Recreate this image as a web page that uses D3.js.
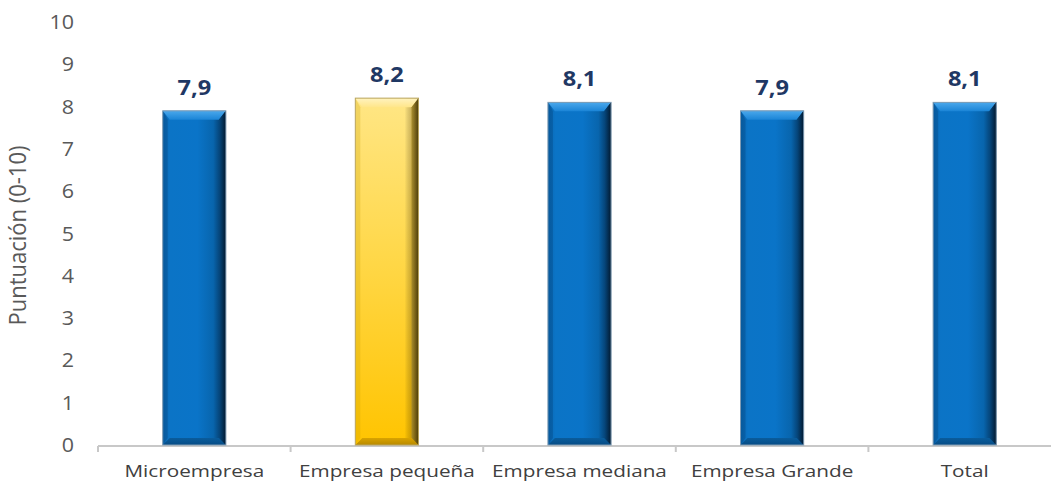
<!DOCTYPE html>
<html>
<head>
<meta charset="utf-8">
<script src="https://cdn.jsdelivr.net/npm/d3@7"></script>
<style>
  html, body { margin: 0; padding: 0; background: #fff; }
  svg { display: block; }
</style>
</head>
<body>
<svg id="chart" width="1051" height="481"></svg>
<script>
// Satisfaction score by company size
const categories = ["Microempresa", "Empresa pequeña", "Empresa mediana", "Empresa Grande", "Total"];
const values = [7.9, 8.2, 8.1, 7.9, 8.1];
const highlighted = ["Empresa pequeña"];
const yTicks = [0, 1, 2, 3, 4, 5, 6, 7, 8, 9, 10];

const svg = d3.select("#chart");
const FONT = "'Open Sans', 'Liberation Sans', sans-serif";

const x = d3.scaleBand().domain(categories).range([98, 1061]).padding(0);
const y = d3.scaleLinear().domain([0, 10]).range([445, 22]);

const defs = svg.append("defs");

function sideGrad(id, stops) {
  const g = defs.append("linearGradient").attr("id", id)
    .attr("x1", 0).attr("x2", 1).attr("y1", 0).attr("y2", 0);
  stops.forEach(s => g.append("stop").attr("offset", s[0]).attr("stop-color", s[1]));
}
function vertGrad(id, stops) {
  const g = defs.append("linearGradient").attr("id", id)
    .attr("x1", 0).attr("x2", 0).attr("y1", 0).attr("y2", 1);
  stops.forEach(s => g.append("stop").attr("offset", s[0]).attr("stop-color", s[1]));
}

sideGrad("blueBody", [[0, "#0a66b0"], [0.12, "#0b74c6"], [0.55, "#0a74c8"], [0.8, "#0865ad"], [0.92, "#053f70"], [1, "#021b33"]]);
vertGrad("blueTop", [[0, "#4aa8ec"], [1, "#1a84d6"]]);
sideGrad("blueRight", [[0, "#064a82"], [1, "#02192f"]]);
vertGrad("blueBottom", [[0, "#0a5c9c"], [1, "#064c85"]]);

vertGrad("goldBodyV", [[0, "#ffe685"], [0.45, "#ffd84a"], [1, "#ffc400"]]);
sideGrad("goldShade", [[0, "rgba(0,0,0,0)"], [0.78, "rgba(0,0,0,0)"], [0.92, "rgba(90,60,0,0.35)"], [1, "rgba(40,25,0,0.75)"]]);
vertGrad("goldTop", [[0, "#fff3c0"], [1, "#ffe68a"]]);
sideGrad("goldRight", [[0, "#a58a2a"], [1, "#4a3a08"]]);
vertGrad("goldBottom", [[0, "#d9a300"], [1, "#b88a00"]]);

// Y axis tick labels (slightly widened glyphs)
svg.append("g").selectAll("text").data(yTicks).join("text")
  .attr("transform", d => `translate(74, ${y(d)}) scale(1.1, 1)`)
  .attr("dy", "0.36em")
  .attr("text-anchor", "end")
  .attr("font-family", FONT)
  .attr("font-size", 19.5)
  .attr("fill", "#595959")
  .text(d => d);

// Y axis title
svg.append("text")
  .attr("transform", `translate(26, ${(y(0) + y(10)) / 2 + 2}) scale(1.1, 1) rotate(-90)`)
  .attr("text-anchor", "middle")
  .attr("font-family", FONT)
  .attr("font-size", 22)
  .attr("fill", "#595959")
  .text("Puntuación (0-10)");

// X axis line with category boundary ticks
const gx = svg.append("g").attr("transform", `translate(0, ${y(0) + 1})`);
gx.append("path")
  .attr("d", `M${x.range()[0]},0H${x.range()[1]}`)
  .attr("stroke", "#c8c8c8").attr("stroke-width", 2).attr("fill", "none");
gx.selectAll(".bound").data(categories).join("line")
  .attr("class", "bound")
  .attr("x1", d => x(d)).attr("x2", d => x(d))
  .attr("y1", 0).attr("y2", 6)
  .attr("stroke", "#c8c8c8").attr("stroke-width", 2);

// Category labels
svg.append("g").selectAll("text").data(categories).join("text")
  .attr("transform", d => `translate(${x(d) + x.bandwidth() / 2}, 477) scale(1.22, 1)`)
  .attr("text-anchor", "middle")
  .attr("font-family", FONT)
  .attr("font-size", 17)
  .attr("fill", "#404040")
  .text(d => d);

// Bevelled bars
const barW = x.bandwidth() * 0.328;
const bev = 7;
const data = categories.map((c, i) => ({ c, v: values[i], gold: highlighted.includes(c) }));

svg.append("g").selectAll("g").data(data).join("g").each(function(d) {
  const g = d3.select(this);
  const x0 = x(d.c) + x.bandwidth() / 2 - barW / 2;
  const x1 = x0 + barW;
  const y0 = y(d.v);
  const y1 = y(0);
  const b = Math.min(bev, (y1 - y0) / 2);
  const pts = arr => arr.map(p => p.join(",")).join(" ");

  if (d.gold) {
    g.append("rect").attr("x", x0).attr("y", y0).attr("width", barW).attr("height", y1 - y0)
      .attr("fill", "url(#goldBodyV)");
    g.append("rect").attr("x", x0).attr("y", y0).attr("width", barW).attr("height", y1 - y0)
      .attr("fill", "url(#goldShade)");
  } else {
    g.append("rect").attr("x", x0).attr("y", y0).attr("width", barW).attr("height", y1 - y0)
      .attr("fill", "url(#blueBody)");
  }
  const pre = d.gold ? "gold" : "blue";
  g.append("polygon")
    .attr("points", pts([[x0, y0], [x1, y0], [x1 - b, y0 + b + 2], [x0 + b, y0 + b + 2]]))
    .attr("fill", `url(#${pre}Top)`);
  g.append("polygon")
    .attr("points", pts([[x1, y0], [x1, y1], [x1 - b, y1 - b], [x1 - b, y0 + b + 2]]))
    .attr("fill", `url(#${pre}Right)`).attr("opacity", 0.9);
  g.append("polygon")
    .attr("points", pts([[x0, y0], [x0 + b - 2, y0 + b + 2], [x0 + b - 2, y1 - b], [x0, y1]]))
    .attr("fill", d.gold ? "rgba(200,160,0,0.25)" : "rgba(0,50,100,0.25)");
  g.append("polygon")
    .attr("points", pts([[x0, y1], [x0 + b, y1 - b], [x1 - b, y1 - b], [x1, y1]]))
    .attr("fill", `url(#${pre}Bottom)`);
  g.append("rect").attr("x", x0).attr("y", y0).attr("width", barW).attr("height", y1 - y0)
    .attr("fill", "none").attr("stroke", d.gold ? "#b9a560" : "#7f9bb3").attr("stroke-width", 1);
});

// Value labels
const fmt = d3.format(".1f");
svg.append("g").selectAll("text").data(data).join("text")
  .attr("transform", d => `translate(${x(d.c) + x.bandwidth() / 2}, ${y(d.v) - 16}) scale(1.15, 1)`)
  .attr("text-anchor", "middle")
  .attr("font-family", FONT)
  .attr("font-weight", "bold")
  .attr("font-size", 20.5)
  .attr("fill", "#1f3864")
  .text(d => fmt(d.v).replace(".", ","));
</script>
</body>
</html>
